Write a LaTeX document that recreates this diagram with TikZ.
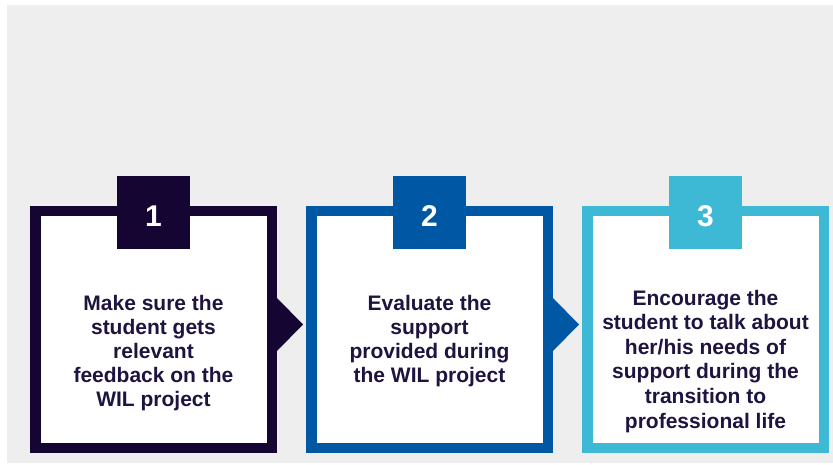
\documentclass[tikz,border=0pt]{standalone}
\usepackage{fontspec}
\setmainfont{Liberation Sans}
\definecolor{bgcol}{HTML}{EEEEEE}
\definecolor{cone}{HTML}{140533}
\definecolor{ctwo}{HTML}{0057A3}
\definecolor{cthree}{HTML}{3DB8D5}
\definecolor{txtcol}{HTML}{1F1440}
\begin{document}
\begin{tikzpicture}[x=1pt,y=-1pt,
  stepbox/.style={draw=#1,fill=white,line width=10.5pt,minimum width=236.5pt,minimum height=236.5pt,inner sep=0pt},
  numtab/.style={fill=#1,minimum width=73pt,minimum height=73pt,inner sep=0pt},
  numtext/.style={text=white,inner sep=0pt,anchor=base,font=\bfseries\fontsize{30}{31}\selectfont},
  steptext/.style={text=txtcol,align=center,inner sep=0pt,anchor=base,font=\bfseries\fontsize{21}{24}\selectfont},
  pointer/.style={fill=#1}]
\useasboundingbox (0,0) rectangle (833,465);
\fill[white] (0,0) rectangle (833,465);
\fill[bgcol] (7,5) rectangle (833,463);
% boxes
\node[stepbox=cone] (b1) at (153.5,329.5) {};
\node[stepbox=ctwo] (b2) at (429.5,329.5) {};
\node[stepbox=cthree] (b3) at (705.5,329.5) {};
% pointers
\fill[pointer=cone] (b1.east |- 0,298) -- ([xshift=26pt]b1.east |- 0,324.5) -- (b1.east |- 0,351) -- cycle;
\fill[pointer=ctwo] (b2.east |- 0,298) -- ([xshift=26pt]b2.east |- 0,324.5) -- (b2.east |- 0,351) -- cycle;
% number tabs
\node[numtab=cone] (n1) at (153.5,213) {};
\node[numtab=ctwo] (n2) at (429.5,213) {};
\node[numtab=cthree] (n3) at (705.5,213) {};
\node[numtext] (d1) at (153.5,227) {1};
\node[numtext] (d2) at (429.5,227) {2};
\node[numtext] (d3) at (705.5,227) {3};
% texts
\node[steptext] (t1) at (153.5,406) {Make sure the\\student gets\\relevant\\feedback on the\\WIL project};
\node[steptext] (t2) at (429.5,382) {Evaluate the\\support\\provided during\\the WIL project};
\node[steptext,font=\bfseries\fontsize{21}{24.6}\selectfont] (t3) at (705.5,428) {Encourage the\\student to talk about\\her/his needs of\\support during the\\transition to\\professional life};
\end{tikzpicture}
\end{document}
